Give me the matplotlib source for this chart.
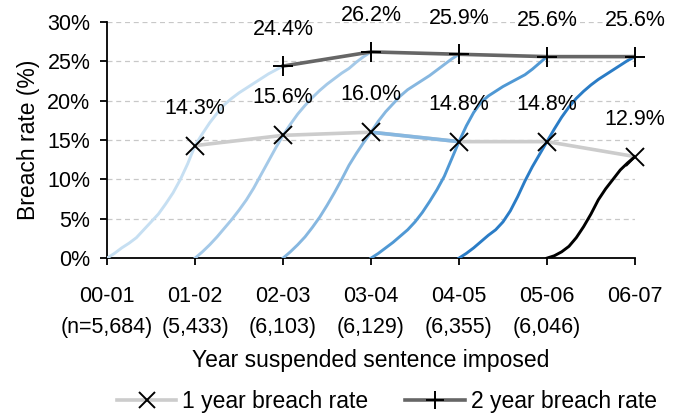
import matplotlib
matplotlib.use("Agg")
import matplotlib.pyplot as plt
from matplotlib.lines import Line2D
import numpy as np

plt.rcParams["font.family"] = ["Liberation Sans", "DejaVu Sans"]

# ── Data ──────────────────────────────────────────────────────────────────────
years = ["00-01", "01-02", "02-03", "03-04", "04-05", "05-06", "06-07"]
counts = ["(n=5,684)", "(5,433)", "(6,103)", "(6,129)", "(6,355)", "(6,046)", ""]

# cumulative breach rate (%) by month since sentence, one list per cohort
cum_00_01 = [0, 0.6, 1.3, 1.9, 2.6, 3.6, 4.6, 5.6, 6.9, 8.3, 10.0, 12.0, 14.3,
             15.8, 17.2, 18.4, 19.5, 20.3, 21.0, 21.6, 22.2, 22.8, 23.4, 23.9, 24.4]
cum_01_02 = [0, 0.8, 1.7, 2.7, 3.8, 4.9, 6.1, 7.4, 8.9, 10.6, 12.3, 14.0, 15.6,
             17.0, 18.3, 19.4, 20.4, 21.3, 22.1, 22.8, 23.5, 24.1, 24.9, 25.6, 26.2]
cum_02_03 = [0, 0.8, 1.7, 2.7, 3.9, 5.2, 6.7, 8.3, 10.0, 11.8, 13.3, 14.7, 16.0,
             17.4, 18.6, 19.6, 20.6, 21.4, 22.0, 22.6, 23.2, 23.9, 24.6, 25.3, 25.9]
cum_03_04 = [0, 0.6, 1.3, 2.0, 2.8, 3.6, 4.6, 5.8, 7.2, 8.7, 10.4, 12.6, 14.8,
             16.8, 18.5, 19.8, 20.6, 21.2, 21.8, 22.3, 22.8, 23.3, 24.0, 24.8, 25.6]
cum_04_05 = [0, 0.6, 1.3, 2.1, 2.9, 3.6, 4.6, 6.0, 7.8, 9.8, 11.6, 13.2, 14.8,
             16.4, 17.9, 19.2, 20.3, 21.2, 22.0, 22.7, 23.3, 23.9, 24.5, 25.1, 25.6]
cum_05_06 = [0, 0.3, 0.8, 1.5, 2.6, 4.0, 5.6, 7.4, 8.8, 10.0, 11.2, 12.1, 12.9]

one_year = [14.3, 15.6, 16.0, 14.8, 14.8, 12.9]      # at 01-02 .. 06-07
two_year = [24.4, 26.2, 25.9, 25.6, 25.6]            # at 02-03 .. 06-07

cohorts = [cum_00_01, cum_01_02, cum_02_03, cum_03_04, cum_04_05, cum_05_06]
cohort_colors = ["#c6dff2", "#a4c9e8", "#86b7e0", "#4f98d4", "#2a7cc6", "#000000"]

# ── Plot ──────────────────────────────────────────────────────────────────────
fig = plt.figure(figsize=(6.82, 4.15), dpi=100)
ax = fig.add_axes([0.157, 0.378, 0.774, 0.569])

for i, (vals, col) in enumerate(zip(cohorts, cohort_colors)):
    x = i + np.arange(len(vals)) / 12.0
    ax.plot(x, vals, color=col, lw=2.1, zorder=3)

x1 = np.arange(1, 7)
x2 = np.arange(2, 7)
ax.plot(x1, one_year, color="#cccccc", lw=2.6, zorder=2)
# the 03-04 -> 04-05 segment is drawn in blue in the original
ax.plot(x1[2:4], one_year[2:4], color="#86b7e0", lw=2.6, zorder=2)
ax.plot(x1, one_year, ls="none", marker="x", ms=13.5, mew=1.4, color="black",
        zorder=5, clip_on=False)
ax.plot(x2, two_year, color="#666666", lw=2.6, zorder=4)
ax.plot(x2, two_year, ls="none", marker="+", ms=15, mew=1.4, color="black",
        zorder=5, clip_on=False)

for xv, v in zip(x1, one_year):
    ax.annotate(f"{v:.1f}%", (xv, v), xytext=(0, 27), textcoords="offset points",
                ha="center", va="center", fontsize=15.5)
for xv, v in zip(x2, two_year):
    ax.annotate(f"{v:.1f}%", (xv, v), xytext=(0, 26), textcoords="offset points",
                ha="center", va="center", fontsize=15.5)

ax.set_xlim(0, 6)
ax.set_ylim(0, 30)
ax.set_yticks(np.arange(0, 31, 5))
ax.set_yticklabels([f"{t}%" for t in range(0, 31, 5)], fontsize=15.5)
ax.set_xticks(range(7))
ax.set_xticklabels([f"{y}\n{c}" for y, c in zip(years, counts)], fontsize=15.5,
                   linespacing=1.6)
ax.tick_params(axis="both", direction="out", length=5, width=1.3, color="black")
ax.tick_params(axis="y", pad=7)
ax.tick_params(axis="x", pad=15)

for yv in range(5, 31, 5):
    ax.axhline(yv, color="#c8c8c8", lw=0.9, ls=(0, (4, 3)), zorder=1)

for s in ["top", "right"]:
    ax.spines[s].set_visible(False)
for s in ["left", "bottom"]:
    ax.spines[s].set_linewidth(1.3)
    ax.spines[s].set_color("black")

ax.set_ylabel("Breach rate (%)", fontsize=16.5, labelpad=5)
ax.set_xlabel("Year suspended sentence imposed", fontsize=16.5, labelpad=8)

handles = [
    Line2D([], [], color="#cccccc", lw=2.6, marker="x", ms=11, mew=1.4,
           mec="black"),
    Line2D([], [], color="#666666", lw=2.6, marker="+", ms=13, mew=1.4,
           mec="black"),
]
fig.legend(handles, ["1 year breach rate", "2 year breach rate"], loc="center",
           bbox_to_anchor=(0.567, 0.032), ncol=2, frameon=False, fontsize=16.5,
           handlelength=2.6, columnspacing=1.6, handletextpad=0.26)

fig.savefig("out.png", dpi=100)
